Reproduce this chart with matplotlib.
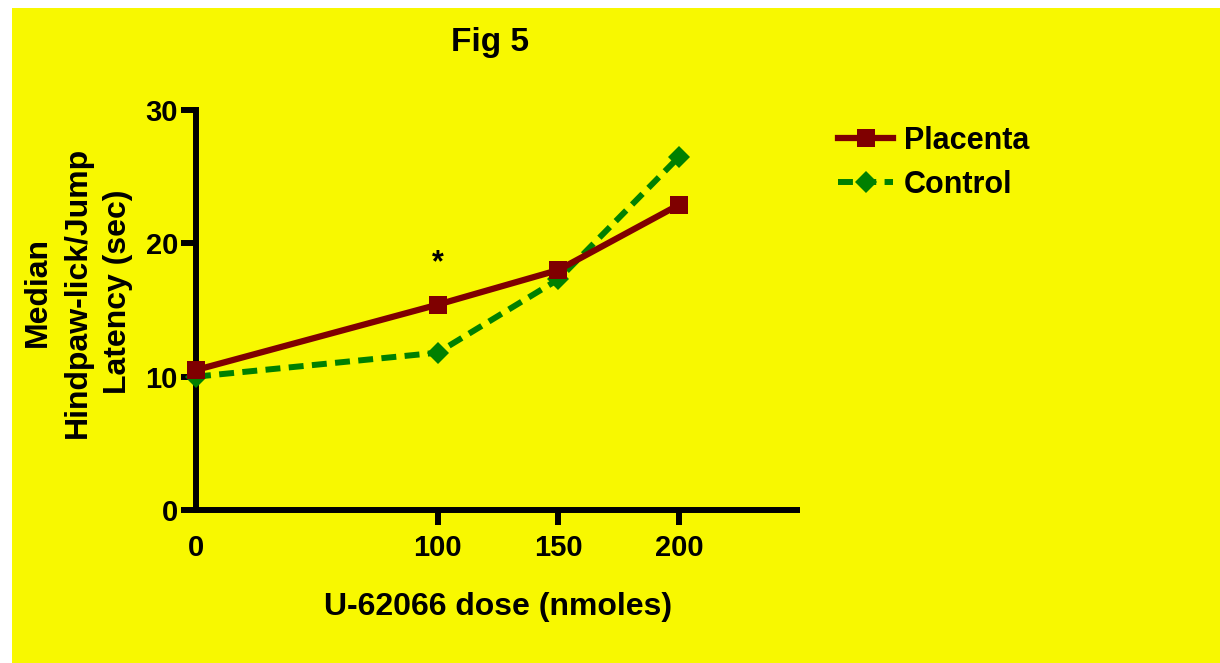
import matplotlib
matplotlib.use("Agg")
import matplotlib.pyplot as plt
from matplotlib.patches import Rectangle

# Data
doses = [0, 100, 150, 200]
placenta = [10.5, 15.4, 18.0, 22.9]
control = [10.0, 11.8, 17.3, 26.5]
x_ticks = [0, 100, 150, 200]
y_ticks = [0, 10, 20, 30]
title = "Fig 5"
x_label = "U-62066 dose (nmoles)"
y_label = "Median\nHindpaw-lick/Jump\nLatency (sec)"
series_names = ["Placenta", "Control"]
star_x, star_y = 100, 18.5

plt.rcParams['font.family'] = ['Liberation Sans', 'DejaVu Sans']
plt.rcParams['font.weight'] = 'bold'

W, H = 1220, 663
fig = plt.figure(figsize=(W / 100, H / 100), dpi=100, facecolor='white')
bg = Rectangle((12 / W, 0), 1 - 12 / W, 1 - 8 / H, transform=fig.transFigure,
               facecolor='#f8f800', edgecolor='none', zorder=-10)
fig.patches.append(bg)

ax = fig.add_axes([196 / W, 1 - 510 / H, (800 - 196) / W, (510 - 110) / H])
ax.set_facecolor('none')

red = '#7f0000'
green = '#008000'
lc, = ax.plot(doses, control, color=green, lw=4.3, linestyle=(0, (2.5, 1.4)),
              dash_capstyle='butt', marker='D', markersize=11, markeredgewidth=0,
              label=series_names[1], zorder=3, clip_on=False)
lp, = ax.plot(doses, placenta, color=red, lw=4.5, marker='s', markersize=13,
              markeredgewidth=0, label=series_names[0], zorder=4, clip_on=False)

ax.set_xlim(0, 250)
ax.set_ylim(0, 30)
ax.set_xticks(x_ticks)
ax.set_yticks(y_ticks)
for s in ['top', 'right']:
    ax.spines[s].set_visible(False)
ax.spines['left'].set_linewidth(4.3)
ax.spines['bottom'].set_linewidth(4.3)
ax.spines['left'].set_capstyle('projecting')
ax.spines['bottom'].set_capstyle('butt')
ax.tick_params(axis='both', length=11, width=4.3, labelsize=21, color='black')
ax.tick_params(axis='y', pad=2)
ax.tick_params(axis='x', pad=6)
ax.xaxis.get_major_ticks()[0].tick1line.set_visible(False)
for lab in ax.get_xticklabels() + ax.get_yticklabels():
    lab.set_fontweight('bold')

ax.set_xlabel(x_label, fontsize=23, fontweight='bold')
ax.xaxis.set_label_coords(0.5, -0.205)
ax.set_ylabel(y_label, fontsize=23, fontweight='bold', linespacing=1.42)
ax.yaxis.set_label_coords(-0.105, 0.545)

ax.text(star_x, star_y, "*", fontsize=22, fontweight='bold', ha='center', va='center')

fig.text(490 / W, 1 - 42 / H, title, fontsize=24, fontweight='bold',
         ha='center', va='center')

ax.legend(handles=[lp, lc], loc='upper left',
          bbox_to_anchor=(838 / W, 1 - 126 / H), bbox_transform=fig.transFigure,
          frameon=False, prop={'size': 22, 'weight': 'bold'}, handlelength=1.8,
          handletextpad=0.35, labelspacing=0.45, borderpad=0, borderaxespad=0)

fig.savefig("out.png", dpi=100, facecolor='white')
